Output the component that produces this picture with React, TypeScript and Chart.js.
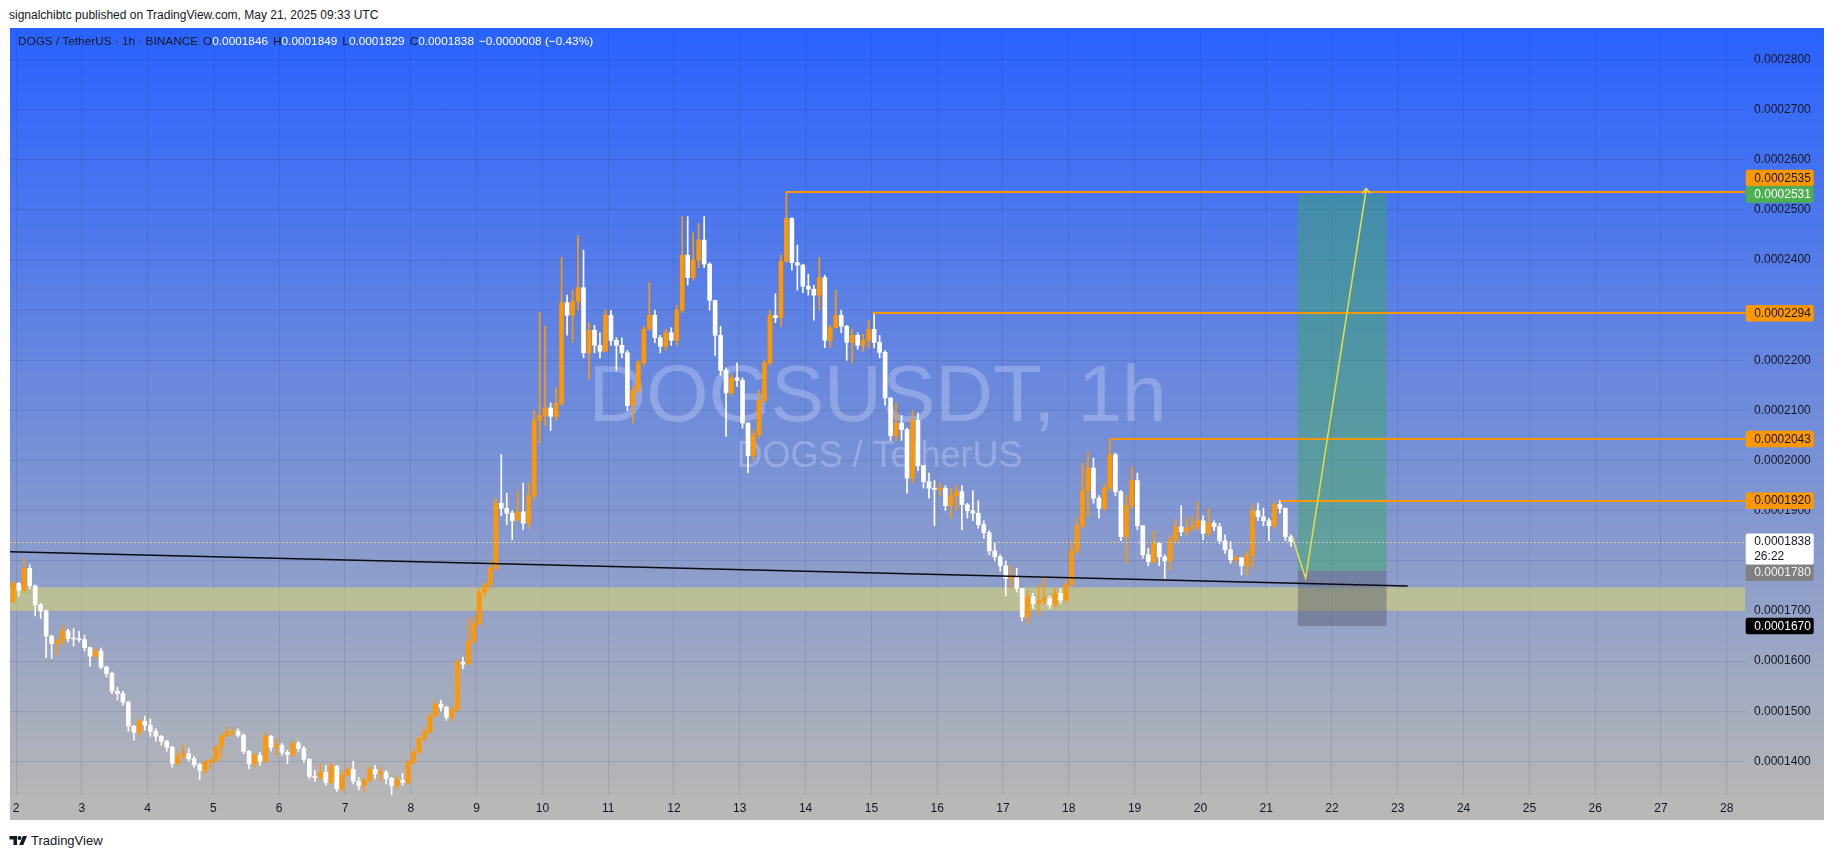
import React, { useEffect, useRef } from "react";
import { Chart, registerables } from "chart.js";

Chart.register(...registerables);

// ---- data (prices in units of 0.0000001 USDT) ----
const PRICE_UNIT = 1e-7;
const FIRST_SLOT = -1; // first 2-hour candle slot, relative to May 2 00:00
const SLOTS_PER_DAY = 12;
const FIRST_OPEN = 1720;

const CLOSE = [
  1755, 1742, 1785, 1750, 1712, 1700, 1650, 1635, 1640, 1660, 1645, 1644,
  1643, 1627, 1610, 1620, 1588, 1575, 1540, 1535, 1518, 1470, 1458, 1480,
  1472, 1460, 1450, 1440, 1428, 1396, 1410, 1415, 1405, 1393, 1382, 1398,
  1402, 1428, 1450, 1458, 1460, 1452, 1420, 1395, 1412, 1400, 1450, 1428,
  1432, 1418, 1414, 1436, 1426, 1404, 1370, 1368, 1378, 1358, 1390, 1345,
  1372, 1384, 1360, 1352, 1362, 1384, 1375, 1378, 1366, 1352, 1362, 1358,
  1398, 1418, 1446, 1458, 1490, 1514, 1508, 1488, 1503, 1598, 1594, 1640,
  1676, 1738, 1752, 1785, 1915, 1905, 1895, 1880, 1898, 1875, 1930, 2080,
  2090, 2105, 2088, 2114, 2315, 2290, 2318, 2345, 2215, 2260, 2230, 2218,
  2290, 2240, 2230, 2215, 2110, 2140, 2195, 2262, 2290, 2245, 2228, 2255,
  2240, 2300, 2410, 2365, 2400, 2440, 2392, 2320, 2250, 2180, 2135, 2165,
  2160, 2075, 2010, 2052, 2120, 2195, 2290, 2285, 2398, 2483, 2395, 2390,
  2348, 2342, 2330, 2365, 2240, 2265, 2290, 2268, 2236, 2250, 2230, 2240,
  2262, 2236, 2216, 2125, 2050, 2075, 2062, 1965, 2080, 1990, 1958, 1945,
  1942, 1945, 1910, 1930, 1938, 1912, 1900, 1895, 1872, 1856, 1820, 1808,
  1790, 1765, 1768, 1745, 1688, 1728, 1715, 1720, 1725, 1712, 1735, 1722,
  1752, 1820, 1870, 1940, 1985, 1925, 1905, 1945, 2012, 1938, 1848, 1910,
  1960, 1870, 1812, 1798, 1835, 1808, 1800, 1842, 1868, 1858, 1865, 1868,
  1880, 1855, 1875, 1868, 1840, 1822, 1802, 1806, 1790, 1812, 1900, 1888,
  1880, 1870, 1912, 1905, 1848, 1838,
];

const HIGH = [
  1758, 1757, 1805, 1792, 1752, 1715, 1702, 1652, 1645, 1672, 1664, 1665,
  1660, 1652, 1628, 1626, 1626, 1590, 1578, 1548, 1540, 1520, 1472, 1484,
  1490, 1485, 1465, 1452, 1442, 1430, 1420, 1432, 1425, 1410, 1396, 1402,
  1408, 1432, 1455, 1468, 1468, 1465, 1455, 1422, 1416, 1418, 1456, 1452,
  1444, 1436, 1422, 1440, 1440, 1430, 1406, 1382, 1395, 1392, 1396, 1392,
  1380, 1388, 1400, 1368, 1366, 1390, 1392, 1388, 1382, 1368, 1370, 1376,
  1402, 1426, 1450, 1468, 1496, 1520, 1522, 1510, 1508, 1604, 1608, 1684,
  1690, 1745, 1758, 1800, 1925, 2012, 1935, 1900, 1940, 1955, 1955, 2100,
  2296, 2268, 2115, 2145, 2406, 2330, 2340, 2449, 2420, 2275, 2270, 2255,
  2300, 2300, 2245, 2245, 2220, 2150, 2200, 2268, 2355, 2300, 2250, 2262,
  2265, 2310, 2487, 2487, 2455, 2473, 2487, 2395, 2320, 2268, 2185, 2172,
  2195, 2165, 2075, 2060, 2140, 2200, 2300, 2333, 2410, 2535, 2485, 2430,
  2392, 2372, 2350, 2405, 2370, 2270, 2340, 2300, 2270, 2262, 2255, 2252,
  2280, 2294, 2250, 2220, 2125, 2115, 2090, 2065, 2100, 2095, 1990, 1975,
  1960, 1955, 1950, 1945, 1950, 1950, 1915, 1940, 1920, 1880, 1860, 1835,
  1812, 1800, 1790, 1785, 1745, 1740, 1735, 1752, 1765, 1730, 1745, 1745,
  1760, 1840, 1885, 1995, 2018, 2005, 1930, 1955, 2043, 2015, 1940, 1930,
  1988, 1975, 1870, 1825, 1860, 1835, 1812, 1850, 1882, 1910, 1885, 1890,
  1918, 1890, 1905, 1880, 1875, 1852, 1838, 1812, 1805, 1820, 1912, 1915,
  1905, 1885, 1918, 1920, 1905, 1852,
];

const LOW = [
  1715, 1730, 1736, 1745, 1690, 1685, 1607, 1605, 1612, 1630, 1638, 1630,
  1638, 1620, 1590, 1605, 1585, 1568, 1535, 1522, 1512, 1460, 1442, 1452,
  1462, 1450, 1440, 1432, 1420, 1388, 1392, 1405, 1400, 1388, 1363, 1375,
  1385, 1398, 1406, 1450, 1452, 1448, 1415, 1385, 1388, 1392, 1398, 1420,
  1412, 1412, 1395, 1410, 1420, 1398, 1365, 1360, 1362, 1352, 1355, 1340,
  1340, 1370, 1355, 1343, 1340, 1358, 1366, 1362, 1355, 1333, 1345, 1352,
  1354, 1395, 1415, 1440, 1455, 1488, 1500, 1482, 1480, 1500, 1585, 1592,
  1635, 1670, 1730, 1745, 1780, 1890, 1872, 1842, 1880, 1862, 1865, 1920,
  2035, 2070, 2060, 2080, 2110, 2250, 2236, 2300, 2205, 2162, 2215, 2205,
  2225, 2230, 2180, 2205, 2100, 2075, 2135, 2190, 2260, 2235, 2215, 2220,
  2230, 2230, 2295, 2350, 2360, 2385, 2385, 2300, 2210, 2170, 2048, 2130,
  2148, 2065, 1976, 2000, 2045, 2115, 2190, 2275, 2268, 2395, 2380, 2340,
  2335, 2330, 2280, 2300, 2225, 2225, 2270, 2255, 2200, 2195, 2222, 2218,
  2225, 2225, 2205, 2110, 2040, 2040, 2040, 1935, 1955, 1980, 1945, 1925,
  1870, 1930, 1900, 1885, 1900, 1862, 1885, 1880, 1865, 1845, 1812, 1800,
  1780, 1730, 1745, 1738, 1680, 1675, 1705, 1692, 1715, 1705, 1708, 1715,
  1718, 1750, 1815, 1865, 1888, 1915, 1885, 1900, 1940, 1930, 1840, 1795,
  1905, 1862, 1805, 1790, 1795, 1790, 1765, 1782, 1835, 1850, 1850, 1860,
  1860, 1842, 1850, 1860, 1835, 1815, 1795, 1795, 1772, 1772, 1785, 1880,
  1870, 1840, 1865, 1895, 1840, 1829,
];

const DAY_TICKS = [0, 1, 2, 3, 4, 5, 6, 7, 8, 9, 10, 11, 12, 13, 14, 15, 16, 17, 18, 19, 20, 21, 22, 23, 24, 25, 26];
const DAY_LABELS = ["2", "3", "4", "5", "6", "7", "8", "9", "10", "11", "12", "13", "14", "15", "16", "17", "18", "19", "20", "21", "22", "23", "24", "25", "26", "27", "28"];
const PRICE_TICKS = [1400, 1500, 1600, 1700, 1800, 1900, 2000, 2100, 2200, 2300, 2400, 2500, 2600, 2700, 2800];
const HIDDEN_PRICE_LABELS = [1800];

const X_MIN = -0.0912;
const X_MAX = 26.277;
const Y_MIN = 1332.8;
const Y_MAX = 2863.1;

const LEVEL_PRICES = [2535, 2294, 2043, 1920];
const LEVEL_START_DAYS = [11.7, 13.02, 16.64, 19.22];
const ZONE_PRICES = [1700, 1747];
const TREND_DAYS = [-0.09, 21.15];
const TREND_PRICES = [1818, 1750];
const PATH_DAYS = [19.4, 19.6, 20.52];
const PATH_PRICES = [1846, 1765, 2541];
const POSITION_DAYS = [19.48, 20.83];
const TARGET_PRICE = 2531;
const ENTRY_PRICE = 1780;
const STOP_PRICE = 1670;
const LAST_PRICE = 1838;
const COUNTDOWN = "26:22";

const HEADER = "signalchibtc published on TradingView.com, May 21, 2025 09:33 UTC";
const SYMBOL = "DOGS / TetherUS \u00b7 1h \u00b7 BINANCE";
const OHLC_KEYS = ["O", "H", "L", "C"];
const OHLC_VALUES = ["0.0001846", "0.0001849", "0.0001829", "0.0001838"];
const CHANGE = "\u22120.0000008 (\u22120.43%)";
const WATERMARK = "DOGSUSDT, 1h";
const WATERMARK_SUB = "DOGS / TetherUS";

// ---- styles ----
const FONT = '"Liberation Sans", Arial, sans-serif';
const ORANGE = "#FF9800";
const DARK = "#131722";
const fmt = (v: number) => (v * PRICE_UNIT).toFixed(7);

const overlayPlugin = {
  id: "tvOverlay",
  beforeDraw(chart: any) {
    const { ctx, chartArea: a, width, height } = chart;
    ctx.save();
    const g = ctx.createLinearGradient(0, a.top, 0, a.bottom);
    g.addColorStop(0, "rgb(41,98,255)");
    g.addColorStop(1, "rgb(182,182,182)");
    ctx.fillStyle = g;
    ctx.fillRect(0, 0, width, a.bottom);
    ctx.fillStyle = "rgb(184,184,184)";
    ctx.fillRect(0, a.bottom, width, height - a.bottom);
    ctx.restore();
  },
  beforeDatasetsDraw(chart: any) {
    const { ctx, chartArea: a } = chart;
    const x = chart.scales.x;
    const y = chart.scales.y;
    ctx.save();
    ctx.beginPath();
    ctx.rect(a.left, a.top, a.right - a.left, a.bottom - a.top);
    ctx.clip();
    // watermark
    const cx = (a.left + a.right) / 2;
    const cy = (a.top + a.bottom) / 2;
    ctx.fillStyle = "rgba(255,255,255,0.24)";
    ctx.textAlign = "center";
    ctx.textBaseline = "alphabetic";
    ctx.font = "80px " + FONT;
    ctx.fillText(WATERMARK, cx, cy + 9);
    ctx.font = "36px " + FONT;
    ctx.fillText(WATERMARK_SUB, cx + 2, cy + 55);
    // support zone
    const zt = y.getPixelForValue(ZONE_PRICES[1]);
    const zb = y.getPixelForValue(ZONE_PRICES[0]);
    ctx.fillStyle = "rgba(230,222,100,0.5)";
    ctx.fillRect(a.left, zt, a.right - a.left, zb - zt);
    // long position tool
    const px0 = x.getPixelForValue(POSITION_DAYS[0]);
    const px1 = x.getPixelForValue(POSITION_DAYS[1]);
    const yT = y.getPixelForValue(TARGET_PRICE);
    const yE = y.getPixelForValue(ENTRY_PRICE);
    const yS = y.getPixelForValue(STOP_PRICE);
    ctx.fillStyle = "rgba(60,165,105,0.5)";
    ctx.fillRect(px0, yT, px1 - px0, yE - yT);
    ctx.fillStyle = "rgba(85,90,110,0.45)";
    ctx.fillRect(px0, yE, px1 - px0, yS - yE);
    ctx.restore();
  },
  afterDatasetsDraw(chart: any) {
    const { ctx, chartArea: a } = chart;
    const x = chart.scales.x;
    const y = chart.scales.y;
    ctx.save();
    ctx.beginPath();
    ctx.rect(a.left, a.top, a.right - a.left, a.bottom - a.top);
    ctx.clip();
    // trend line
    ctx.strokeStyle = "#0b0b10";
    ctx.lineWidth = 1.5;
    ctx.beginPath();
    ctx.moveTo(x.getPixelForValue(TREND_DAYS[0]), y.getPixelForValue(TREND_PRICES[0]));
    ctx.lineTo(x.getPixelForValue(TREND_DAYS[1]), y.getPixelForValue(TREND_PRICES[1]));
    ctx.stroke();
    // horizontal levels
    ctx.strokeStyle = ORANGE;
    ctx.lineWidth = 2;
    LEVEL_PRICES.forEach((p, i) => {
      const yy = Math.round(y.getPixelForValue(p));
      ctx.beginPath();
      ctx.moveTo(x.getPixelForValue(LEVEL_START_DAYS[i]), yy);
      ctx.lineTo(a.right, yy);
      ctx.stroke();
    });
    // last price dotted line
    const yl = Math.round(y.getPixelForValue(LAST_PRICE)) + 0.5;
    ctx.strokeStyle = "rgba(255,255,255,0.95)";
    ctx.lineWidth = 1;
    ctx.setLineDash([1.5, 2.5]);
    ctx.beginPath();
    ctx.moveTo(a.left, yl);
    ctx.lineTo(a.right, yl);
    ctx.stroke();
    ctx.setLineDash([]);
    // projection path
    ctx.strokeStyle = "#E6DF45";
    ctx.lineWidth = 1.5;
    ctx.beginPath();
    PATH_DAYS.forEach((d, i) => {
      const px = x.getPixelForValue(d);
      const py = y.getPixelForValue(PATH_PRICES[i]);
      if (i === 0) ctx.moveTo(px, py);
      else ctx.lineTo(px, py);
    });
    ctx.stroke();
    const tx = x.getPixelForValue(PATH_DAYS[2]);
    const ty = y.getPixelForValue(PATH_PRICES[2]);
    ctx.beginPath();
    ctx.moveTo(tx - 4, ty + 4);
    ctx.lineTo(tx, ty - 1);
    ctx.lineTo(tx + 4, ty + 4);
    ctx.stroke();
    ctx.restore();
  },
  afterDraw(chart: any) {
    const { ctx, chartArea: a } = chart;
    const y = chart.scales.y;
    const left = a.right + 0.7;
    const w = 68;
    const h = 16.5;
    type Box = { top: number; h: number; bg: string; fg: string; lines: string[]; c: number };
    const yT = y.getPixelForValue(TARGET_PRICE);
    const yL = y.getPixelForValue(LAST_PRICE);
    const fixed: Box[] = [
      { top: yT - h / 2, h, bg: "#4CAF50", fg: "#ffffff", lines: [fmt(TARGET_PRICE)], c: yT },
      { top: yL - 8.3, h: 31, bg: "#ffffff", fg: DARK, lines: [fmt(LAST_PRICE), COUNTDOWN], c: yL },
    ];
    const others: Box[] = [
      ...LEVEL_PRICES.map((p) => ({ top: 0, h, bg: ORANGE, fg: DARK, lines: [fmt(p)], c: y.getPixelForValue(p) })),
      { top: 0, h, bg: "#808080", fg: "#f2f2f2", lines: [fmt(ENTRY_PRICE)], c: y.getPixelForValue(ENTRY_PRICE) },
      { top: 0, h, bg: "#000000", fg: "#ffffff", lines: [fmt(STOP_PRICE)], c: y.getPixelForValue(STOP_PRICE) },
    ];
    others.forEach((b) => {
      b.top = b.c - h / 2;
      fixed.forEach((f) => {
        if (b.top < f.top + f.h && b.top + b.h > f.top) {
          if (b.c < f.top + f.h / 2) b.top = f.top - b.h;
          else b.top = f.top + f.h;
        }
      });
    });
    ctx.save();
    ctx.font = "12px " + FONT;
    ctx.textAlign = "left";
    ctx.textBaseline = "middle";
    [...others, ...fixed].forEach((b) => {
      ctx.fillStyle = b.bg;
      ctx.beginPath();
      (ctx as any).roundRect(left, b.top, w, b.h, 2);
      ctx.fill();
      ctx.fillStyle = b.fg;
      b.lines.forEach((t, i) => {
        ctx.fillText(t, left + 8.5, b.top + 8.6 + i * 14.4);
      });
    });
    ctx.restore();
  },
};

export default function App() {
  const ref = useRef<HTMLCanvasElement>(null);

  useEffect(() => {
    const times = CLOSE.map((_, i) => (i + FIRST_SLOT + 0.5) / SLOTS_PER_DAY);
    const opens = CLOSE.map((_, i) => (i === 0 ? FIRST_OPEN : CLOSE[i - 1]));
    const colors = CLOSE.map((c, i) => (c >= opens[i] ? ORANGE : "#FFFFFF"));
    const wicks = times.map((t, i) => ({
      x: t,
      y: [Math.min(LOW[i], opens[i], CLOSE[i]), Math.max(HIGH[i], opens[i], CLOSE[i])],
    }));
    const bodies = times.map((t, i) => ({ x: t, y: [opens[i], CLOSE[i]] }));

    const chart = new Chart(ref.current as HTMLCanvasElement, {
      type: "bar",
      data: {
        datasets: [
          {
            data: wicks as any,
            backgroundColor: colors,
            borderWidth: 0,
            barThickness: 1,
            grouped: false,
          } as any,
          {
            data: bodies as any,
            backgroundColor: colors,
            borderWidth: 0,
            barThickness: 4,
            minBarLength: 1,
            grouped: false,
          } as any,
        ],
      },
      options: {
        animation: false,
        responsive: true,
        maintainAspectRatio: false,
        events: [],
        layout: { padding: 0 },
        plugins: { legend: { display: false }, tooltip: { enabled: false } },
        scales: {
          x: {
            type: "linear",
            min: X_MIN,
            max: X_MAX,
            offset: false,
            afterBuildTicks: (s: any) => {
              s.ticks = DAY_TICKS.map((v) => ({ value: v }));
            },
            afterFit: (s: any) => {
              s.height = 25;
              s.paddingLeft = 0;
              s.paddingRight = 0;
            },
            grid: { color: "rgba(20,30,70,0.11)", drawTicks: false, offset: false },
            border: { display: false },
            ticks: {
              autoSkip: false,
              maxRotation: 0,
              padding: 6,
              color: DARK,
              font: { family: FONT, size: 12 },
              callback: (_v: any, i: number) => DAY_LABELS[i],
            },
          },
          y: {
            type: "linear",
            position: "right",
            min: Y_MIN,
            max: Y_MAX,
            afterBuildTicks: (s: any) => {
              s.ticks = PRICE_TICKS.map((v) => ({ value: v }));
            },
            afterFit: (s: any) => {
              s.width = 79;
              s.paddingTop = 0;
              s.paddingBottom = 0;
            },
            grid: { color: "rgba(20,30,70,0.11)", drawTicks: false },
            border: { display: false },
            ticks: {
              padding: 9,
              color: DARK,
              font: { family: FONT, size: 12 },
              callback: (v: any) => (HIDDEN_PRICE_LABELS.includes(v) ? "" : fmt(v)),
            },
          },
        },
      } as any,
      plugins: [overlayPlugin as any],
    });
    return () => chart.destroy();
  }, []);

  return (
    <div
      style={{
        position: "absolute",
        left: 0,
        top: 0,
        width: 1835,
        height: 858,
        background: "#ffffff",
        overflow: "hidden",
        fontFamily: FONT,
      }}
    >
      <div style={{ position: "absolute", left: 9, top: 8, fontSize: 12, lineHeight: "14px", color: DARK, whiteSpace: "nowrap" }}>
        {HEADER}
      </div>
      <div style={{ position: "absolute", left: 10, top: 28, width: 1814, height: 792 }}>
        <canvas ref={ref} />
      </div>
      <div
        style={{
          position: "absolute",
          left: 18,
          top: 34,
          fontSize: 11.8,
          lineHeight: "14px",
          whiteSpace: "nowrap",
          color: DARK,
        }}
      >
        <span>{SYMBOL}</span>
        {OHLC_KEYS.map((k, i) => (
          <span key={k} style={{ marginLeft: i === 0 ? 5 : 5 }}>
            {k}
            <span style={{ color: "#ffffff" }}>{OHLC_VALUES[i]}</span>
          </span>
        ))}
        <span style={{ marginLeft: 5, color: "#ffffff" }}>{CHANGE}</span>
      </div>
      <div style={{ position: "absolute", left: 9, top: 833, display: "flex", alignItems: "center" }}>
        <svg width="19" height="12" viewBox="0 0 36 24">
          <path d="M0 2h15v18H8V9H0z" fill={DARK} />
          <circle cx="20" cy="6" r="4" fill={DARK} />
          <path d="M27 2h8l-7.5 18h-8z" fill={DARK} />
        </svg>
        <span style={{ marginLeft: 3, fontSize: 13, color: DARK }}>TradingView</span>
      </div>
    </div>
  );
}
